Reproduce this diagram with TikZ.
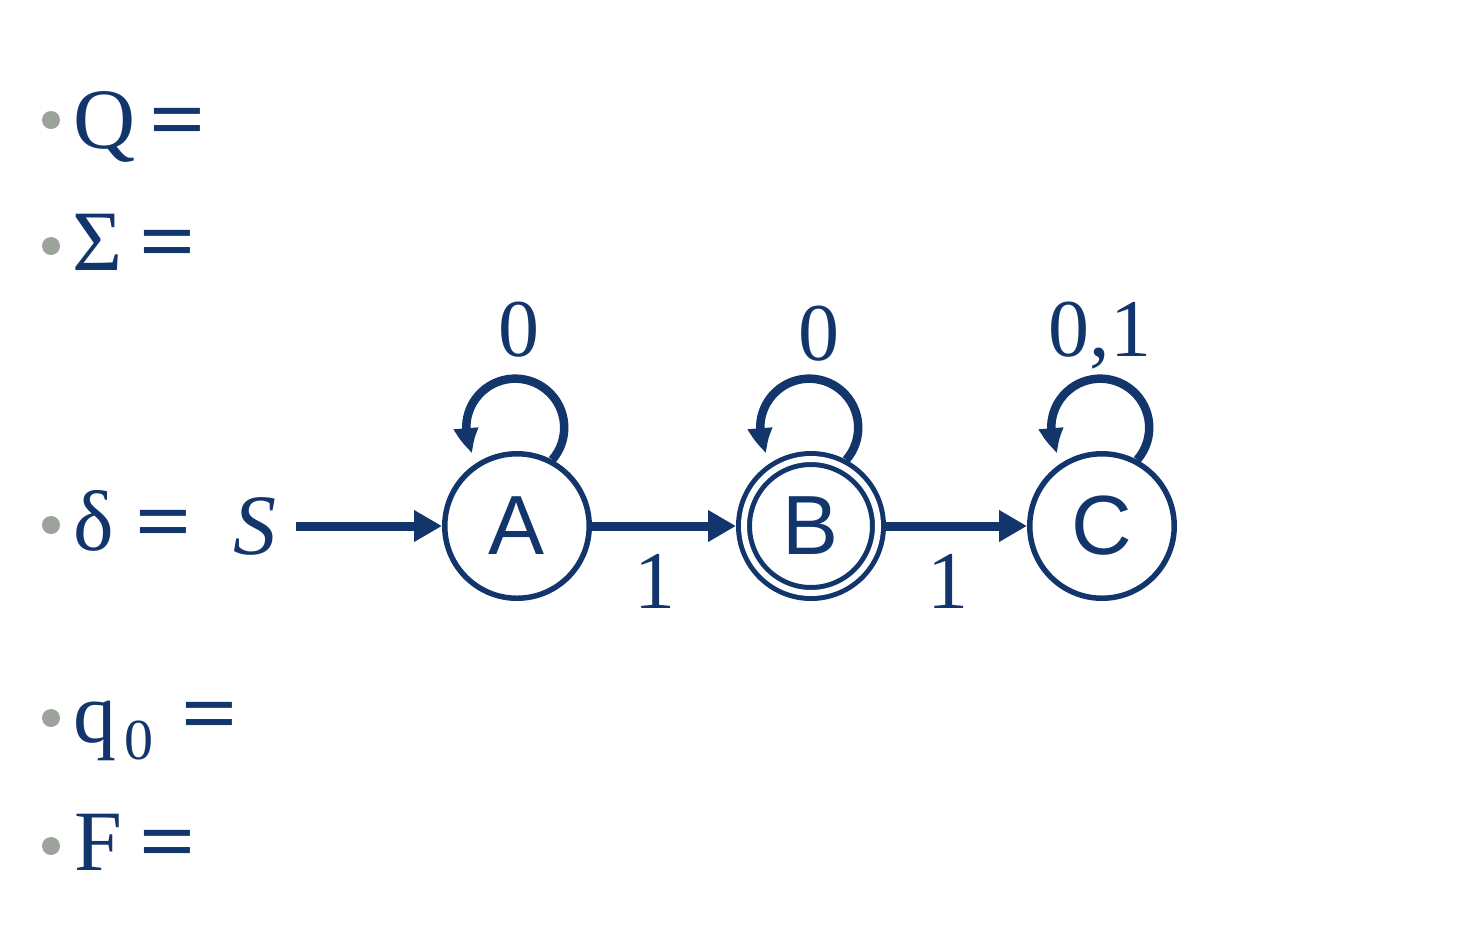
\documentclass[tikz,border=0pt]{standalone}
\usepackage{fontspec}
\usepackage{graphicx}
\setmainfont{Liberation Serif}
\newfontfamily\statefont{Liberation Sans}
\usetikzlibrary{arrows.meta,bending,positioning}
\definecolor{navy}{RGB}{18,54,108}
\definecolor{dotgray}{RGB}{155,163,154}
\newcommand{\eqsign}{\scalebox{1.15}[1]{\bfseries =}}

\begin{document}
\begin{tikzpicture}[x=0.5pt,y=-0.5pt]
\tikzstyle{arrow} = [-{Triangle[length=14pt,width=15pt]},line width=4.5pt,navy]
\tikzstyle{looparrow} = [-{Triangle[length=13pt,width=11.5pt,bend]},line width=4.25pt,navy]
\tikzstyle{state} = [circle,draw=navy,line width=2.75pt,minimum size=72.25pt,inner sep=0pt,text=navy,font=\statefont\fontsize{42}{42}\selectfont]
\tikzstyle{item} = [anchor=base west,inner sep=0pt,text=navy,font=\fontsize{43}{43}\selectfont]
\tikzstyle{sym} = [inner sep=0pt,text depth=0pt,text=navy,font=\fontsize{41}{41}\selectfont]
\tikzstyle{dot} = [circle,fill=dotgray,minimum size=9pt,inner sep=0pt]

\useasboundingbox (0,0) rectangle (1464,950);

% bullets
\node[dot] (d1) at (51,120) {};
\node[dot] (d2) at (51,246) {};
\node[dot] (d3) at (51,525) {};
\node[dot] (d4) at (51,718) {};
\node[dot] (d5) at (51,846) {};

% list
\node[item] (Q) at (73,148) {Q\hspace{7pt}\eqsign};
\node[item] (Sigma) at (72,270) {Σ\hspace{8.5pt}\eqsign};
\node[item] (delta) at (73,550) {δ\hspace{11pt}\eqsign};
\node[item] (q0) at (73,742) {q\hspace{4pt}\raisebox{-8.5pt}{\fontsize{29}{29}\selectfont 0}\hspace{14pt}\eqsign};
\node[item] (F) at (74,870) {F\hspace{8.5pt}\eqsign};

% states
\node[sym,font=\fontsize{43}{43}\selectfont\itshape] (S) at (255,526) {S};
\node[state] (A) at (517,526) {A};
\node[state,double,double distance=3pt,line width=2.5pt,minimum size=67pt,outer sep=4pt] (B) at (811,526) {B};
\node[state] (C) at (1102,526) {C};

% arrows
\draw[arrow,shorten <=9.5pt] (S) -- (A);
\draw[arrow] (A) -- node[sym,below=12pt,xshift=-4.75pt] {1} (B);
\draw[arrow] (B) -- node[sym,below=12pt,xshift=-4.5pt] {1} (C);

% loops
\draw[looparrow] (A.62) arc[start angle=-41,end angle=211,radius=24.5pt];
\draw[looparrow] (B.62) arc[start angle=-41,end angle=211,radius=24.5pt];
\draw[looparrow] (C.62) arc[start angle=-41,end angle=211,radius=24.5pt];
\node[sym,above=47pt of A,xshift=0.75pt] (la) {0};
\node[sym,above=45pt of B,xshift=3.75pt] (lb) {0};
\node[sym,above=47pt of C,xshift=-1pt] (lc) {0,1};

\end{tikzpicture}
\end{document}
